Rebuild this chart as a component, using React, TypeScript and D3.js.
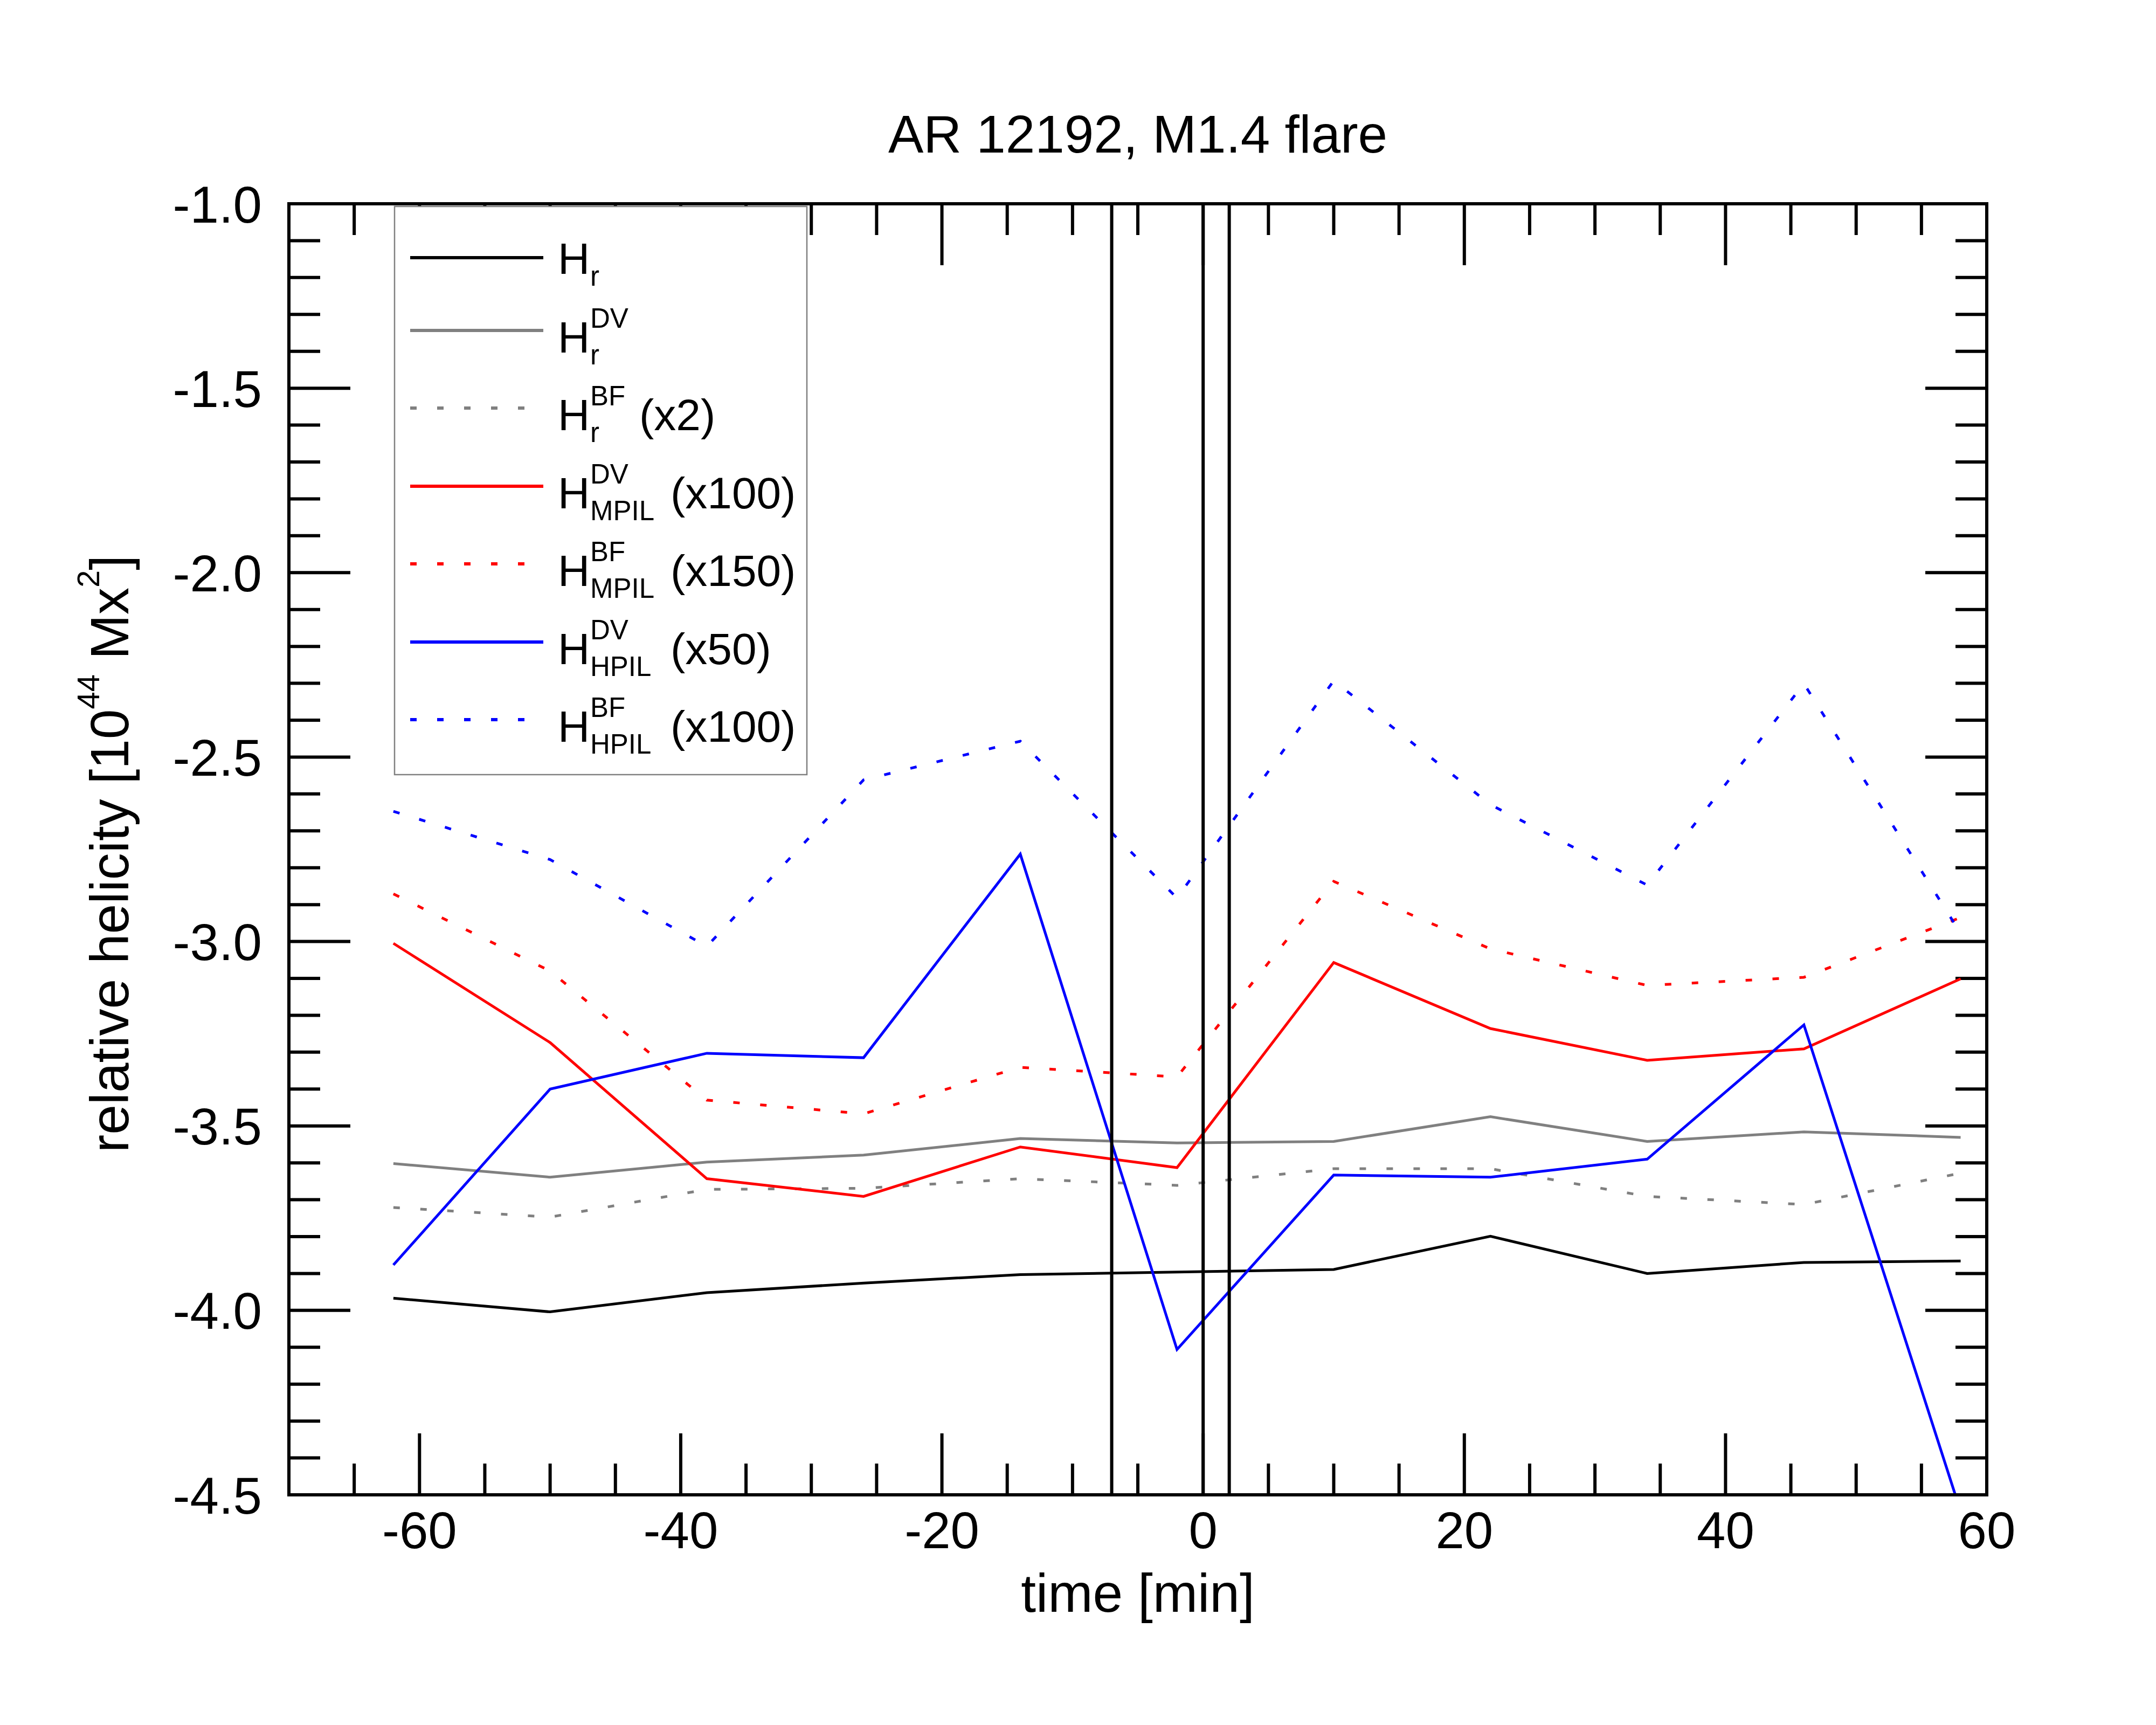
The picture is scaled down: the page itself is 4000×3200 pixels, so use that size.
import * as d3 from "d3";

// minutes relative to flare peak
const times = [-62, -50, -38, -26, -14, -2, 10, 22, 34, 46, 58];

// relative helicity [1e44 Mx^2]
const hr = [-3.967, -4.004, -3.952, -3.926, -3.903, -3.896, -3.889, -3.799, -3.9, -3.87, -3.866];
const hrDV = [-3.602, -3.639, -3.598, -3.579, -3.534, -3.546, -3.542, -3.475, -3.542, -3.516, -3.531];
const hrBF = [-3.721, -3.747, -3.672, -3.669, -3.643, -3.661, -3.616, -3.616, -3.691, -3.713, -3.628];
const mpilDV = [-3.005, -3.274, -3.643, -3.691, -3.557, -3.613, -3.057, -3.236, -3.322, -3.291, -3.101];
const mpilBF = [-2.871, -3.08, -3.43, -3.467, -3.341, -3.367, -2.837, -3.02, -3.119, -3.097, -2.935];
const hpilDV = [-3.877, -3.4, -3.303, -3.315, -2.763, -4.106, -3.633, -3.639, -3.59, -3.226, -4.545];
const hpilBF = [-2.647, -2.778, -3.013, -2.562, -2.457, -2.882, -2.293, -2.629, -2.847, -2.301, -2.978];

// flare start / peak / end markers
const flareTimes = [-7, 0, 2];

const xTickLabels = [-60, -40, -20, 0, 20, 40, 60];
const yTickLabels = [-4.5, -4.0, -3.5, -3.0, -2.5, -2.0, -1.5, -1.0];

const series = [
  { key: "hr", values: hr, color: "#000000", dashed: false, sup: "", sub: "r", note: "" },
  { key: "hrDV", values: hrDV, color: "#808080", dashed: false, sup: "DV", sub: "r", note: "" },
  { key: "hrBF", values: hrBF, color: "#808080", dashed: true, sup: "BF", sub: "r", note: "(x2)" },
  { key: "mpilDV", values: mpilDV, color: "#ff0000", dashed: false, sup: "DV", sub: "MPIL", note: "(x100)" },
  { key: "mpilBF", values: mpilBF, color: "#ff0000", dashed: true, sup: "BF", sub: "MPIL", note: "(x150)" },
  { key: "hpilDV", values: hpilDV, color: "#0000ff", dashed: false, sup: "DV", sub: "HPIL", note: "(x50)" },
  { key: "hpilBF", values: hpilBF, color: "#0000ff", dashed: true, sup: "BF", sub: "HPIL", note: "(x100)" },
];

const W = 4000;
const H = 3200;
const left = 536;
const right = 3686;
const top = 378;
const bottom = 2773;
const font = "'Liberation Sans', Arial, Helvetica, sans-serif";

export default function App() {
  const x = d3.scaleLinear().domain([-70, 60]).range([left, right]);
  const y = d3.scaleLinear().domain([-4.5, -1.0]).range([bottom, top]);

  const xMinor = d3.range(-65, 60, 5);
  const yMinor = d3.range(-44, -10, 1).map((v) => v / 10);

  const line = d3
    .line<number>()
    .x((_, i) => x(times[i]))
    .y((d) => y(d));

  const majorLen = 114;
  const minorLen = 58;
  const axisW = 6;

  // legend layout
  const legX0 = 761;
  const legX1 = 1008;
  const legRows = [478, 613, 757, 902, 1046, 1191, 1335];

  return (
    <svg
      width={W}
      height={H}
      viewBox={`0 0 ${W} ${H}`}
      style={{ position: "absolute", left: 0, top: 0, background: "#fff" }}
      fontFamily={font}
    >
      <defs>
        <clipPath id="plotArea">
          <rect x={left} y={top} width={right - left} height={bottom - top} />
        </clipPath>
      </defs>
      <rect x={0} y={0} width={W} height={H} fill="#fff" />

      {/* title */}
      <text x={(left + right) / 2} y={283} fontSize={98} textAnchor="middle">
        AR 12192, M1.4 flare
      </text>

      {/* ticks */}
      <g stroke="#000" strokeWidth={axisW}>
        {xMinor.map((t) => {
          const len = xTickLabels.includes(t) ? majorLen : minorLen;
          return (
            <g key={"xt" + t}>
              <line x1={x(t)} x2={x(t)} y1={bottom} y2={bottom - len} />
              <line x1={x(t)} x2={x(t)} y1={top} y2={top + len} />
            </g>
          );
        })}
        {yMinor.map((t) => {
          const len = yTickLabels.some((v) => Math.abs(v - t) < 1e-6) ? majorLen : minorLen;
          return (
            <g key={"yt" + t}>
              <line x1={left} x2={left + len} y1={y(t)} y2={y(t)} />
              <line x1={right} x2={right - len} y1={y(t)} y2={y(t)} />
            </g>
          );
        })}
      </g>

      {/* tick labels */}
      <g fontSize={96} fill="#000">
        {xTickLabels.map((t) => (
          <text key={"xl" + t} x={x(t)} y={2872} textAnchor="middle">
            {String(t)}
          </text>
        ))}
        {yTickLabels.map((t) => (
          <text key={"yl" + t} x={486} y={y(t)} dy="0.36em" textAnchor="end">
            {t.toFixed(1)}
          </text>
        ))}
      </g>

      {/* axis titles */}
      <text x={(left + right) / 2} y={2990} fontSize={100} textAnchor="middle">
        time [min]
      </text>
      <text transform={`translate(238,1584) rotate(-90)`} fontSize={100} textAnchor="middle">
        relative helicity [10
        <tspan fontSize={58} dy={-54}>44</tspan>
        <tspan dy={54}> Mx</tspan>
        <tspan fontSize={58} dy={-54}>2</tspan>
        <tspan dy={54}>]</tspan>
      </text>

      {/* legend */}
      <rect
        x={732}
        y={383}
        width={1497 - 732}
        height={1437 - 383}
        fill="#fff"
        stroke="#808080"
        strokeWidth={2.5}
      />
      {series.map((s, i) => {
        const ly = legRows[i];
        const base = ly + (i === 0 ? 30 : 41);
        const noteX = s.sub === "r" ? 1186 : 1244;
        return (
          <g key={"leg" + s.key}>
            <line
              x1={legX0}
              x2={s.dashed ? 973 : legX1}
              y1={ly}
              y2={ly}
              stroke={s.color}
              strokeWidth={6}
              strokeDasharray={s.dashed ? "12 38" : undefined}
            />
            <text x={1035} y={base} fontSize={82}>
              H
            </text>
            {s.sup && (
              <text x={1095} y={base - 46} fontSize={51}>
                {s.sup}
              </text>
            )}
            <text x={1095} y={base + 22} fontSize={51}>
              {s.sub}
            </text>
            {s.note && (
              <text x={noteX} y={base} fontSize={82}>
                {s.note}
              </text>
            )}
          </g>
        );
      })}

      {/* data */}
      <g clipPath="url(#plotArea)" fill="none" strokeWidth={5} strokeLinejoin="miter">
        {series.map((s) => (
          <path
            key={s.key}
            d={line(s.values) ?? ""}
            stroke={s.color}
            strokeDasharray={s.dashed ? "12 38" : undefined}
          />
        ))}
      </g>

      {/* flare markers */}
      <g stroke="#000" strokeWidth={6}>
        {flareTimes.map((t) => (
          <line key={"fl" + t} x1={x(t)} x2={x(t)} y1={top} y2={bottom} />
        ))}
      </g>

      {/* frame */}
      <rect
        x={left}
        y={top}
        width={right - left}
        height={bottom - top}
        fill="none"
        stroke="#000"
        strokeWidth={axisW}
      />
    </svg>
  );
}
